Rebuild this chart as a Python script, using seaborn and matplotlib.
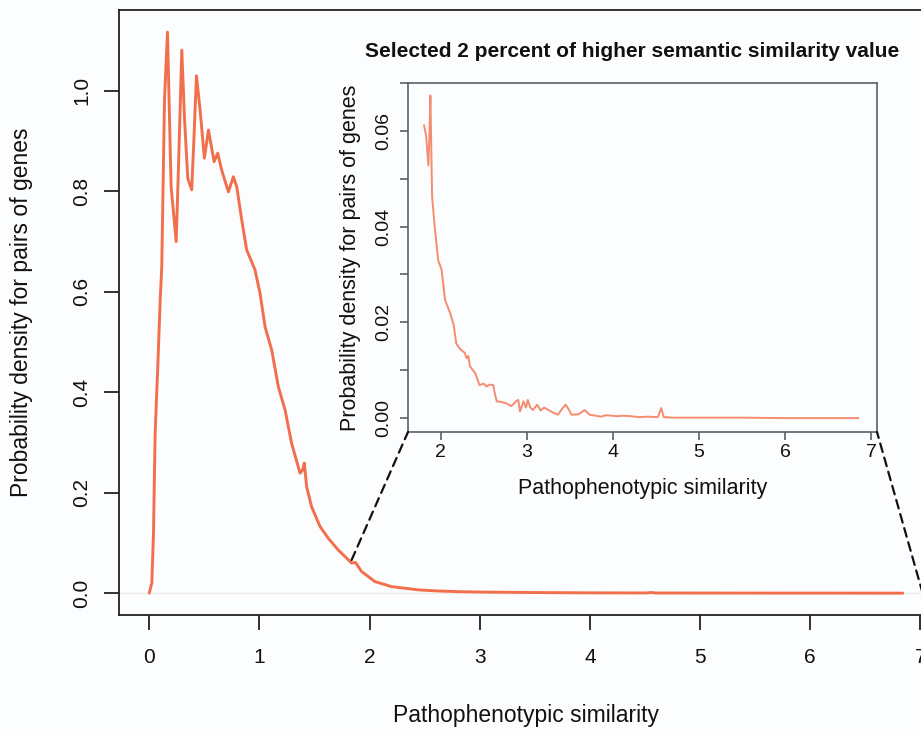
import matplotlib
matplotlib.use("Agg")
import matplotlib.pyplot as plt
from matplotlib.patches import ConnectionPatch
import seaborn as sns
import pandas as pd

# ---------------- data ----------------
main_x = [0.0, 0.024, 0.039, 0.054, 0.078, 0.10, 0.114, 0.139, 0.166, 0.199,
          0.245, 0.266, 0.296, 0.32, 0.35, 0.386, 0.408, 0.429, 0.462, 0.501,
          0.538, 0.589, 0.622, 0.658, 0.719, 0.764, 0.795, 0.84, 0.885, 0.92,
          0.961, 1.006, 1.052, 1.112, 1.172, 1.233, 1.293, 1.369, 1.392, 1.408,
          1.429, 1.474, 1.55, 1.626, 1.716, 1.837, 1.873, 1.928, 2.049, 2.2,
          2.44, 2.6, 2.8, 3.0, 3.5, 4.0, 4.5, 4.56, 4.6, 5.0, 6.0, 6.84]
main_y = [0.0, 0.02, 0.119, 0.318, 0.451, 0.584, 0.65, 0.982, 1.117, 0.809,
          0.70, 0.849, 1.081, 0.948, 0.826, 0.803, 0.915, 1.03, 0.962, 0.866,
          0.922, 0.859, 0.876, 0.842, 0.799, 0.829, 0.809, 0.743, 0.683, 0.665,
          0.643, 0.597, 0.530, 0.484, 0.411, 0.365, 0.298, 0.239, 0.245, 0.259,
          0.212, 0.172, 0.133, 0.109, 0.086, 0.060, 0.061, 0.043, 0.023, 0.013,
          0.0066, 0.0045, 0.003, 0.0022, 0.0012, 0.0006, 0.0004, 0.0012, 0.0003,
          0.0002, 0.0001, 0.0]

inset_x = [1.806, 1.83, 1.857, 1.87, 1.88, 1.90, 1.93, 1.97, 2.01, 2.05,
           2.11, 2.15, 2.18, 2.22, 2.28, 2.30, 2.32, 2.34, 2.40, 2.45,
           2.50, 2.53, 2.57, 2.61, 2.63, 2.65, 2.70, 2.76, 2.82, 2.88,
           2.90, 2.92, 2.96, 2.99, 3.01, 3.04, 3.07, 3.12, 3.16, 3.20,
           3.24, 3.30, 3.36, 3.42, 3.45, 3.48, 3.52, 3.60, 3.67, 3.70,
           3.73, 3.80, 3.86, 3.92, 3.99, 4.05, 4.10, 4.21, 4.30, 4.40,
           4.52, 4.56, 4.59, 4.70, 5.0, 5.5, 6.0, 6.5, 6.85]
inset_y = [0.0612, 0.0590, 0.0528, 0.0600, 0.0674, 0.0462, 0.0400, 0.0330, 0.0310, 0.0247,
           0.0219, 0.0195, 0.0156, 0.0145, 0.0136, 0.0125, 0.0130, 0.0108, 0.0094, 0.0069,
           0.0072, 0.0066, 0.0070, 0.0069, 0.0050, 0.0035, 0.0034, 0.0031, 0.0025, 0.0036,
           0.0038, 0.0014, 0.0035, 0.0022, 0.0038, 0.0022, 0.0017, 0.0028, 0.0016, 0.0022,
           0.0018, 0.0012, 0.0007, 0.0022, 0.0028, 0.0020, 0.0007, 0.0008, 0.0017, 0.0012,
           0.0007, 0.0005, 0.0003, 0.0006, 0.0005, 0.0004, 0.0005, 0.0004, 0.0002, 0.0003,
           0.0002, 0.0021, 0.0002, 0.0001, 0.0001, 0.0001, 0.0, 0.0, 0.0]

main_xticks = [0, 1, 2, 3, 4, 5, 6, 7]
main_yticks = [0.0, 0.2, 0.4, 0.6, 0.8, 1.0]
main_yticklabels = ["0.0", "0.2", "0.4", "0.6", "0.8", "1.0"]
inset_xticks = [2, 3, 4, 5, 6, 7]
inset_yticks = [0.00, 0.01, 0.02, 0.03, 0.04, 0.05, 0.06, 0.07]
inset_yticklabels = ["0.00", "", "0.02", "", "0.04", "", "0.06", ""]

xlabel = "Pathophenotypic similarity"
ylabel = "Probability density for pairs of genes"
inset_title = "Selected 2 percent of higher semantic similarity value"

# ---------------- style ----------------
sns.set_style("white")
plt.rcParams["font.family"] = ["Liberation Sans", "DejaVu Sans"]

bg = "#FCFDFE"
main_color = "#F26F4C"
inset_color = "#F58C70"
W, H = 921, 730

fig = plt.figure(figsize=(W / 100, H / 100), dpi=100, facecolor=bg)

def frac(l, t, r, b):
    return [l / W, 1 - b / H, (r - l) / W, (b - t) / H]

ax = fig.add_axes(frac(119, 10, 933, 615))
ax.set_facecolor(bg)
axin = fig.add_axes(frac(408, 83, 877, 432))
axin.set_facecolor(bg)

main_df = pd.DataFrame({"x": main_x, "y": main_y})
inset_df = pd.DataFrame({"x": inset_x, "y": inset_y})

# main panel
ax.axhline(0, color="#EDEDED", lw=1, zorder=1)
sns.lineplot(data=main_df, x="x", y="y", ax=ax, color=main_color, lw=2.1,
             estimator=None, zorder=3)
ax.set_xlim(-0.274, 7.114)
ax.set_ylim(-0.0435, 1.161)
ax.set_xticks(main_xticks)
ax.set_xticklabels([str(t) for t in main_xticks])
ax.set_yticks(main_yticks)
ax.set_yticklabels(main_yticklabels, rotation=90, va="center")
for s in ax.spines.values():
    s.set_color("#222222")
    s.set_linewidth(1.3)
ax.tick_params(axis="both", which="major", direction="out", length=11,
               width=1.3, color="#222222", labelsize=15, labelcolor="#111111",
               bottom=True, left=True)
ax.tick_params(axis="x", pad=13)
ax.tick_params(axis="y", pad=9.2)
ax.set_xlabel(xlabel, fontsize=16.5, color="#111111")
ax.set_ylabel(ylabel, fontsize=16.5, color="#111111")
ax.xaxis.set_label_coords(0.5, -0.1466)
ax.yaxis.set_label_coords(-0.1054, 0.5)

# inset panel
sns.lineplot(data=inset_df, x="x", y="y", ax=axin, color=inset_color, lw=1.4,
             estimator=None, zorder=3)
axin.set_xlim(1.62, 7.065)
axin.set_ylim(-0.0029, 0.07)
axin.set_xticks(inset_xticks)
axin.set_xticklabels([str(t) for t in inset_xticks])
axin.set_yticks(inset_yticks)
axin.set_yticklabels(inset_yticklabels, rotation=90, va="center")
for s in axin.spines.values():
    s.set_color("#5A5F66")
    s.set_linewidth(1.2)
axin.tick_params(axis="both", which="major", direction="out", length=5.5,
                 width=1.2, color="#5A5F66", labelsize=14, labelcolor="#111111",
                 bottom=True, left=True)
axin.tick_params(axis="x", pad=3.4)
axin.tick_params(axis="y", pad=5.5)
axin.set_xlabel(xlabel, fontsize=15.5, color="#111111")
axin.set_ylabel(ylabel, fontsize=15.5, color="#111111")
axin.xaxis.set_label_coords(0.5, -0.1307)
axin.yaxis.set_label_coords(-0.0996, 0.5)

fig.text(632 / W, 1 - 56.7 / H, inset_title, ha="center", va="baseline",
         fontsize=15, fontweight="bold", color="#111111")

# zoom connector lines
for xyA, xyB in [((1.837, 0.066), (0.0, 0.0)), ((7.02, 0.0), (1.0, 0.0))]:
    con = ConnectionPatch(xyA=xyA, coordsA=ax.transData, xyB=xyB,
                          coordsB=axin.transAxes, color="#111111", lw=1.6,
                          linestyle=(0, (4, 2.6)), zorder=5)
    fig.add_artist(con)

fig.savefig("out.png", dpi=100, facecolor=bg)
